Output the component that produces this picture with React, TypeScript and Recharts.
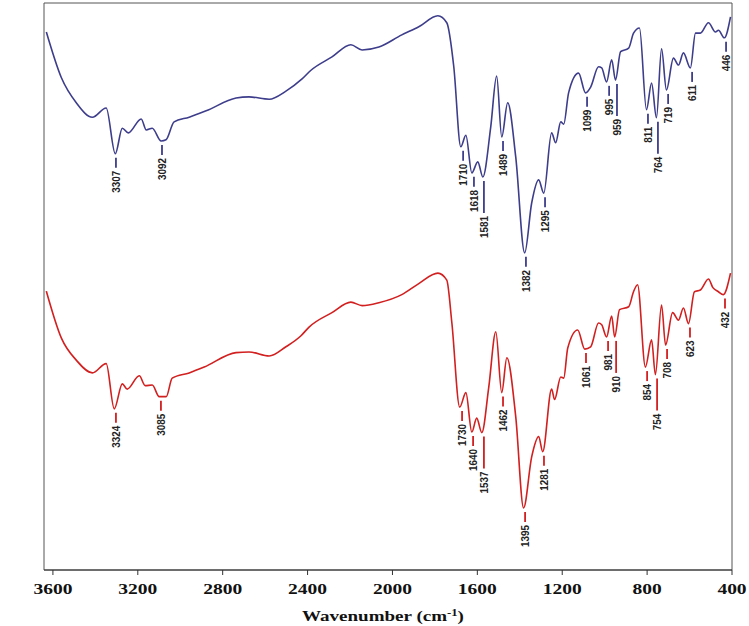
import React from 'react';
import { ComposedChart, Line, Scatter, XAxis, YAxis, ReferenceArea } from 'recharts';

// upper (blue) spectrum, wavenumber / %T
const blueWn = [3631, 3560, 3490, 3414, 3349, 3306, 3273, 3245, 3184, 3160, 3132, 3090, 3067, 3029, 2958, 2878, 2737, 2676, 2581, 2502, 2426, 2384, 2285, 2196, 2143, 2064, 1956, 1876, 1786, 1744, 1711, 1678, 1654, 1626, 1598, 1574, 1537, 1509, 1485, 1457, 1419, 1377, 1344, 1311, 1287, 1250, 1231, 1207, 1193, 1170, 1123, 1090, 1066, 1029, 1014, 991, 967, 949, 925, 887, 864, 836, 803, 779, 756, 732, 709, 676, 652, 629, 596, 572, 549, 511, 478, 464, 436, 407];
const blueT = [95.0, 87.1, 82.8, 80.3, 81.9, 74.0, 78.4, 77.6, 80.0, 78.1, 78.4, 76.2, 76.4, 79.5, 80.3, 81.4, 83.6, 83.8, 83.4, 84.8, 86.9, 88.4, 90.7, 92.8, 91.9, 92.4, 94.5, 95.9, 97.8, 96.6, 89.0, 75.2, 77.2, 70.7, 72.6, 70.0, 78.6, 87.4, 76.9, 82.8, 73.4, 56.9, 65.5, 69.5, 67.2, 77.6, 75.9, 79.5, 79.1, 84.5, 87.9, 84.5, 85.5, 89.0, 88.8, 86.4, 90.2, 86.7, 91.6, 92.2, 94.8, 95.7, 81.6, 86.2, 80.2, 92.1, 85.0, 90.5, 89.3, 91.4, 88.8, 94.8, 94.8, 96.6, 95.0, 95.3, 94.0, 97.6];

// lower (red) spectrum
const redWn = [3631, 3560, 3490, 3414, 3349, 3311, 3273, 3250, 3193, 3165, 3132, 3099, 3066, 3038, 2958, 2887, 2737, 2676, 2581, 2502, 2431, 2393, 2285, 2196, 2143, 2064, 1956, 1876, 1786, 1744, 1720, 1683, 1654, 1626, 1603, 1579, 1546, 1513, 1485, 1461, 1419, 1382, 1344, 1311, 1292, 1250, 1236, 1207, 1193, 1174, 1127, 1094, 1066, 1029, 1014, 991, 967, 953, 930, 887, 864, 845, 808, 779, 761, 732, 713, 680, 652, 629, 605, 577, 549, 511, 490, 464, 441, 407];
const redT = [50.3, 42.2, 38.4, 36.2, 37.8, 30.0, 34.3, 33.4, 35.7, 34.0, 34.1, 32.1, 32.1, 35.3, 36.2, 37.2, 39.7, 39.8, 39.1, 40.7, 42.6, 44.1, 46.6, 48.4, 47.8, 48.3, 49.7, 51.6, 53.4, 52.2, 44.8, 30.3, 32.8, 26.0, 28.4, 25.9, 33.8, 43.3, 32.8, 38.8, 28.6, 12.9, 21.7, 25.2, 22.6, 33.4, 31.6, 35.5, 35.3, 40.5, 43.6, 40.3, 40.7, 44.8, 44.5, 42.4, 46.0, 42.4, 47.1, 47.6, 50.2, 51.4, 37.2, 41.9, 35.9, 47.9, 41.0, 46.6, 45.3, 47.4, 44.7, 50.2, 50.5, 52.4, 50.9, 50.2, 49.7, 53.4];

// peak labels: text, where the mark sits, and the dip %T it hangs from
const blueLabels = ['3307', '3092', '1710', '1618', '1581', '1489', '1382', '1295', '1099', '995', '959', '811', '764', '719', '611', '446'];
const blueLabelWn = [3303, 3086, 1667, 1616, 1569, 1479, 1371, 1281, 1083, 979, 942, 796, 749, 701, 588, 428];
const blueLabelT = [74.0, 76.2, 75.2, 70.7, 70.0, 76.9, 56.9, 67.2, 84.5, 86.4, 86.7, 81.6, 80.2, 85.0, 88.8, 94.0];

const redLabels = ['3324', '3085', '1730', '1640', '1537', '1462', '1395', '1281', '1061', '981', '910', '854', '754', '708', '623', '432'];
const redLabelWn = [3303, 3091, 1672, 1620, 1569, 1479, 1375, 1286, 1088, 984, 946, 800, 753, 706, 598, 433];
const redLabelT = [30.0, 32.1, 30.3, 26.0, 25.9, 32.8, 12.9, 22.6, 40.3, 42.4, 42.4, 37.2, 35.9, 41.0, 44.7, 49.7];

// labels drawn with the longer leader line
const longLeaders = ['1581', '959', '764', '1537', '910', '754'];

const xTicks = [3600, 3200, 2800, 2400, 2000, 1600, 1200, 800, 400];

const BLUE = '#3d3d8c';
const RED = '#d21f1f';
const serif = "'Liberation Serif', 'Times New Roman', serif";
const sans = "'Liberation Sans', Arial, sans-serif";

const toPoints = (xs: number[], ys: number[]) => xs.map((x, i) => ({ x, y: ys[i] }));
const toMarks = (labels: string[], xs: number[], ys: number[]) =>
    labels.map((label, i) => ({ x: xs[i], y: ys[i], label, long: longLeaders.includes(label) }));

const blueData = toPoints(blueWn, blueT);
const redData = toPoints(redWn, redT);
const blueMarks = toMarks(blueLabels, blueLabelWn, blueLabelT);
const redMarks = toMarks(redLabels, redLabelWn, redLabelT);

const makeMark = (color: string) => (props: any) => {
    const { cx, cy } = props;
    const p = props.payload ?? props;
    const y0 = cy + 4;
    const y1 = y0 + (p.long ? 32 : 10);
    return (
        <g>
            <line x1={cx} x2={cx} y1={y0} y2={y1} stroke={color} strokeWidth={1.8} />
            <text
                transform={`translate(${cx},${y1 + 3}) rotate(-90) scale(0.9,1)`}
                textAnchor="end"
                dy="0.36em"
                fontFamily={sans}
                fontWeight="bold"
                fontSize={11}
                fill="#222"
            >
                {p.label}
            </text>
        </g>
    );
};

// the original's axis text is a little stretched sideways
const WideTick = (props: any) => {
    const { x, y, payload } = props;
    return (
        <text
            transform={`translate(${x},${y}) scale(1.3,1)`}
            textAnchor="middle"
            dy="0.71em"
            fontFamily={serif}
            fontWeight="bold"
            fontSize={15}
            fill="#111"
        >
            {payload.value}
        </text>
    );
};

const XTitle = (props: any) => {
    const { viewBox } = props;
    const cx = viewBox.x + viewBox.width / 2 - 5;
    return (
        <text transform={`translate(${cx},${viewBox.y + 51}) scale(1.27,1)`} textAnchor="middle" fontFamily={serif} fontWeight="bold" fontSize={15} fill="#111">
            Wavenumber (cm
            <tspan dy={-5} fontSize={10}>-1</tspan>
            <tspan dy={5}>)</tspan>
        </text>
    );
};

const YTitle = (props: any) => {
    const { viewBox } = props;
    const x = viewBox.x - 35;
    const y = viewBox.y + 270;
    return (
        <text transform={`translate(${x},${y}) rotate(-90)`} textAnchor="middle" dy="0.35em" fontFamily={serif} fontWeight="bold" fontSize={17} fill="#1a1a33">
            %T
        </text>
    );
};

const App: React.FC = () => {
    return (
        <div style={{ position: 'absolute', left: 0, top: 0, background: '#fff' }}>
            <ComposedChart width={749} height={626} margin={{ top: 3, right: 17, bottom: 0, left: 44 }}>
                <XAxis
                    type="number"
                    dataKey="x"
                    domain={[400, 3642]}
                    reversed
                    allowDataOverflow
                    ticks={xTicks}
                    interval={0}
                    height={56}
                    tickSize={5}
                    tickMargin={8}
                    stroke="#333"
                    tick={<WideTick />}
                    label={<XTitle />}
                />
                <YAxis
                    type="number"
                    dataKey="y"
                    domain={[2.2, 100]}
                    allowDataOverflow
                    width={0}
                    tick={false}
                    tickLine={false}
                    stroke="#333"
                    label={<YTitle />}
                />
                <ReferenceArea x1={400} x2={3642} y1={2.2} y2={100} fill="none" stroke="#555" strokeWidth={1} ifOverflow="visible" />
                <Line data={blueData} dataKey="y" type="monotone" stroke={BLUE} strokeWidth={1.6} dot={false} isAnimationActive={false} />
                <Line data={redData} dataKey="y" type="monotone" stroke={RED} strokeWidth={1.6} dot={false} isAnimationActive={false} />
                <Scatter data={blueMarks} dataKey="y" shape={makeMark(BLUE)} isAnimationActive={false} />
                <Scatter data={redMarks} dataKey="y" shape={makeMark(RED)} isAnimationActive={false} />
            </ComposedChart>
        </div>
    );
};

export default App;
